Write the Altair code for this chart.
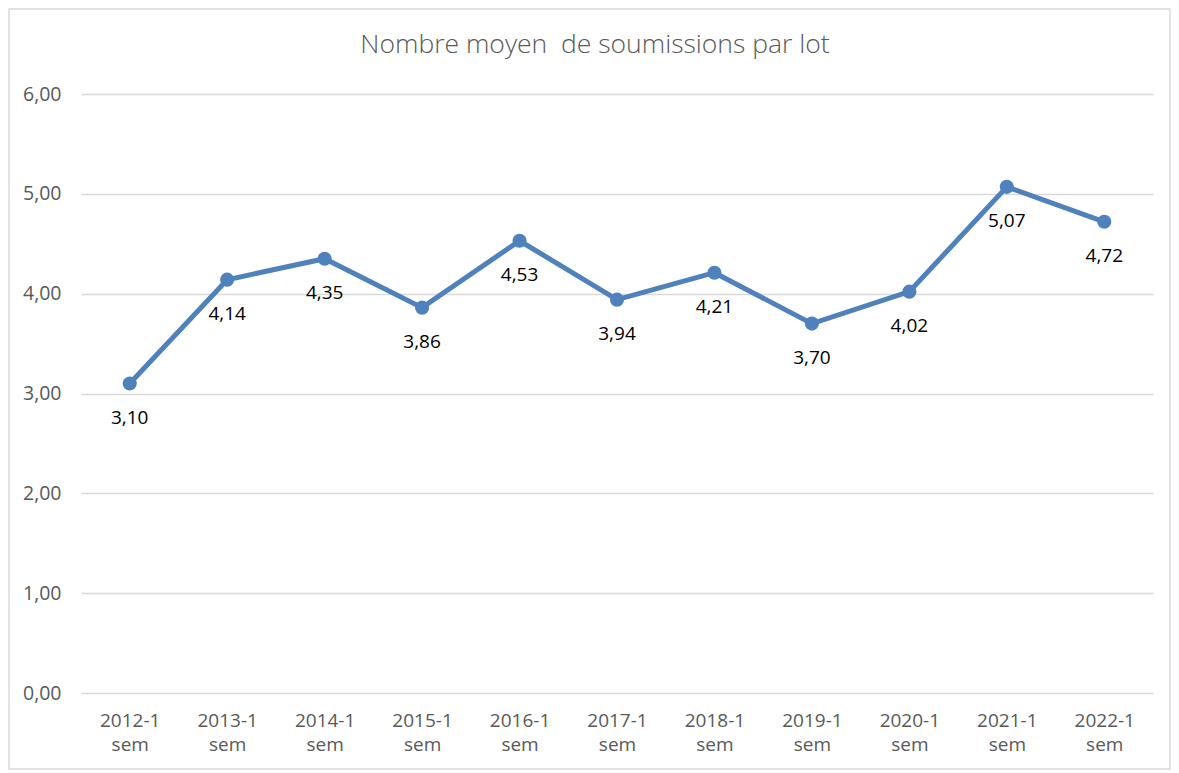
import altair as alt
import pandas as pd

categories = ["2012-1 sem", "2013-1 sem", "2014-1 sem", "2015-1 sem", "2016-1 sem",
              "2017-1 sem", "2018-1 sem", "2019-1 sem", "2020-1 sem", "2021-1 sem", "2022-1 sem"]
values = [3.10, 4.14, 4.35, 3.86, 4.53, 3.94, 4.21, 3.70, 4.02, 5.07, 4.72]
title_text = "Nombre moyen\u00a0 de soumissions par lot"
y_ticks = [0, 1, 2, 3, 4, 5, 6]

W, H = 1072, 599
FONT = "Open Sans"
BLUE = "#4F81BD"
GRID = "#D9D9D9"

df = pd.DataFrame({"cat": categories, "val": values})

x_enc = alt.X("cat:N", sort=categories,
              scale=alt.Scale(type="point", padding=0.5),
              axis=alt.Axis(title=None, labelExpr="split(datum.label, ' ')",
                            labelAngle=0, labelFont=FONT, labelFontSize=19,
                            labelColor="#595959", labelLineHeight=24,
                            labelPadding=18, ticks=False, domain=False, grid=False))
y_enc = alt.Y("val:Q", scale=alt.Scale(domain=[0, 6], nice=False),
              axis=alt.Axis(title=None, values=y_ticks,
                            labelExpr="replace(format(datum.value, '.2f'), '.', ',')",
                            labelFont=FONT, labelFontSize=19.5, labelColor="#595959",
                            labelPadding=20, ticks=False, domain=False,
                            grid=True, gridColor=GRID, gridWidth=1.3))

base = alt.Chart(df)

line = base.mark_line(color=BLUE, strokeWidth=5).encode(x=x_enc, y=y_enc)
pts = base.mark_point(filled=True, color=BLUE, size=200, opacity=1).encode(x=x_enc, y=y_enc)
labels = base.transform_calculate(
    lab="replace(format(datum.val, '.2f'), '.', ',')"
).mark_text(font=FONT, fontSize=19, color="#000000", dy=34).encode(
    x=x_enc, y=y_enc, text="lab:N")

title_df = pd.DataFrame({"t": [title_text]})
title = alt.Chart(title_df).mark_text(font=FONT, fontSize=26.5, fontWeight=300,
                                      color="#595959").encode(
    x=alt.value(514), y=alt.value(-49), text="t:N")

border = alt.Chart(pd.DataFrame({"a": [0]})).mark_rect(
    fill=None, stroke=GRID, strokeWidth=1.5).encode(
    x=alt.value(-72), x2=alt.value(1089), y=alt.value(-85), y2=alt.value(675))

chart = alt.layer(border, line, pts, labels, title).properties(
    width=W, height=H,
    autosize=alt.AutoSizeParams(type="none"),
    padding={"left": 73, "top": 86, "right": 18, "bottom": 77},
    background="white",
).configure_view(stroke=None)

chart.save("out.html", embed_options={"renderer": "svg", "actions": False})
